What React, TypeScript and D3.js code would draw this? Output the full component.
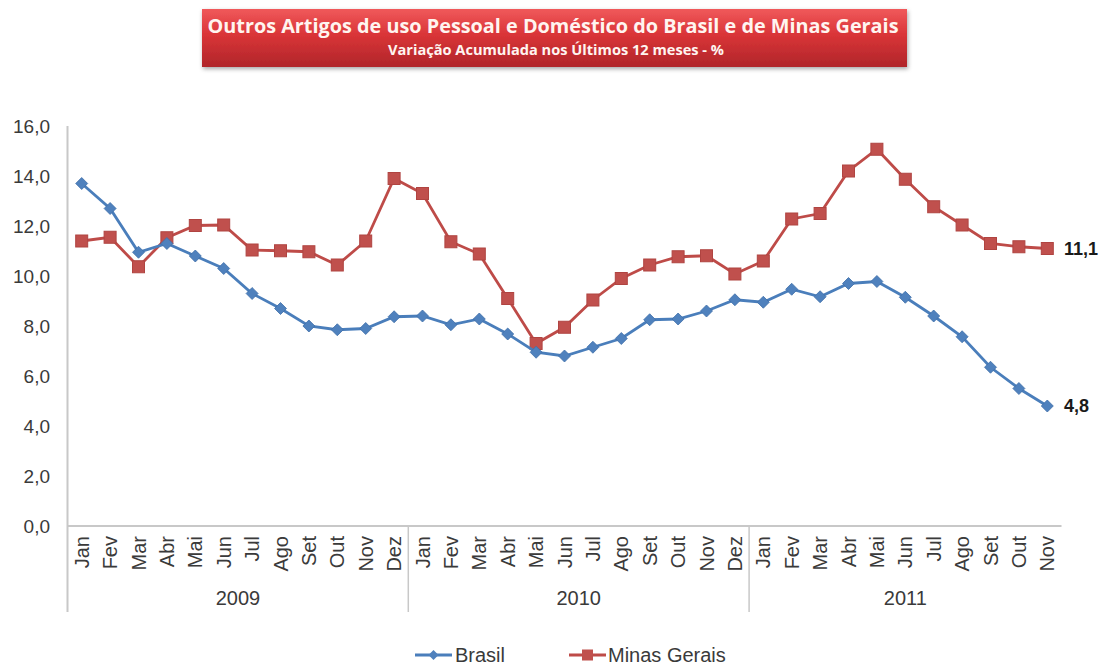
import React from "react";
import * as d3 from "d3";

const months = ["Jan","Fev","Mar","Abr","Mai","Jun","Jul","Ago","Set","Out","Nov","Dez"];
const years = ["2009", "2010", "2011"];
const monthsPerYear = [12, 12, 11];

const brasil = [13.7, 12.7, 10.95, 11.3, 10.8, 10.3, 9.3, 8.7, 8.0, 7.85, 7.9, 8.37,
  8.4, 8.05, 8.28, 7.68, 6.95, 6.8, 7.15, 7.5, 8.25, 8.28, 8.6, 9.05,
  8.95, 9.47, 9.17, 9.7, 9.78, 9.15, 8.4, 7.57, 6.35, 5.5, 4.8];
const minas = [11.4, 11.55, 10.37, 11.53, 12.02, 12.04, 11.04, 11.01, 10.97, 10.44, 11.4, 13.9,
  13.3, 11.37, 10.88, 9.1, 7.3, 7.95, 9.04, 9.9, 10.44, 10.77, 10.81, 10.08,
  10.6, 12.28, 12.5, 14.2, 15.07, 13.87, 12.77, 12.04, 11.3, 11.17, 11.1];
const yTicks = [0, 2, 4, 6, 8, 10, 12, 14, 16];
const seriesNames = ["Brasil", "Minas Gerais"];
const endLabels = ["4,8", "11,1"];

const BLUE = "#4a7ebb";
const RED = "#be4b48";

export default function App() {
  const W = 1104, H = 665;
  const left = 67.5, right = 1061.5, top = 126, bottom = 526;
  const cats: string[] = [];
  years.forEach((y, i) => { for (let m = 0; m < monthsPerYear[i]; m++) cats.push(`${months[m]}-${y}`); });
  const x = d3.scaleBand<string>().domain(cats).range([left, right]).paddingInner(0).paddingOuter(0);
  const y = d3.scaleLinear().domain([0, 16]).range([bottom, top]);
  const cx = (i: number) => (x(cats[i]) as number) + x.bandwidth() / 2;
  const line = d3.line<number>().x((_, i) => cx(i)).y((v) => y(v));
  const fmt = (v: number) => v.toFixed(1).replace(".", ",");

  const yearBounds: { start: number; end: number; label: string }[] = [];
  let idx = 0;
  years.forEach((yr, i) => {
    const s = x(cats[idx]) as number;
    idx += monthsPerYear[i];
    const e = i === years.length - 1 ? right : (x(cats[idx]) as number);
    yearBounds.push({ start: s, end: e, label: yr });
  });

  const axisColor = "#c8c8c8";
  const textColor = "#3a3a3a";
  const font = "'Liberation Sans', Arial, sans-serif";

  const diamond = (px: number, py: number, r: number) =>
    `M${px},${py - r}L${px + r},${py}L${px},${py + r}L${px - r},${py}Z`;

  return (
    <svg width={W} height={H} style={{ position: "absolute", left: 0, top: 0, background: "#fff" }}>
      <defs>
        <linearGradient id="tg" x1="0" y1="0" x2="0" y2="1">
          <stop offset="0" stopColor="#f0595b" />
          <stop offset="0.45" stopColor="#d93437" />
          <stop offset="1" stopColor="#b0262a" />
        </linearGradient>
        <filter id="sh" x="-5%" y="-20%" width="110%" height="150%">
          <feDropShadow dx="1" dy="2" stdDeviation="2" floodColor="#000" floodOpacity="0.35" />
        </filter>
      </defs>
      <rect x={202} y={9} width={705} height={58} fill="url(#tg)" filter="url(#sh)" />
      <text x={553} y={33} textAnchor="middle" fill="#fff5f0" fontFamily="'Open Sans', sans-serif"
        fontWeight="bold" fontSize={20} textLength={691} lengthAdjust="spacingAndGlyphs">
        Outros Artigos de uso Pessoal e Doméstico do Brasil e de Minas Gerais
      </text>
      <text x={556} y={55} textAnchor="middle" fill="#fff5f0" fontFamily="'Open Sans', sans-serif"
        fontWeight="bold" fontSize={14.5} textLength={336} lengthAdjust="spacingAndGlyphs">
        Variação Acumulada nos Últimos 12 meses - %
      </text>

      {/* axes */}
      <line x1={left} x2={left} y1={top} y2={612} stroke={axisColor} strokeWidth={2} />
      <line x1={left} x2={right} y1={bottom} y2={bottom} stroke={axisColor} strokeWidth={2} />
      {yearBounds.slice(1).map((b, i) => (
        <line key={i} x1={b.start} x2={b.start} y1={bottom} y2={612} stroke={axisColor} strokeWidth={1.5} />
      ))}
      {yTicks.map((t) => (
        <text key={t} x={50} y={y(t)} textAnchor="end" dominantBaseline="central" fontFamily={font}
          fontSize={19} fill={textColor}>{fmt(t)}</text>
      ))}
      {cats.map((c, i) => (
        <text key={c} transform={`translate(${cx(i)},536) rotate(-90)`} textAnchor="end" dominantBaseline="central"
          fontFamily={font} fontSize={20} fill={textColor}>{c.split("-")[0]}</text>
      ))}
      {yearBounds.map((b) => (
        <text key={b.label} x={(b.start + b.end) / 2} y={598} textAnchor="middle" dominantBaseline="central"
          fontFamily={font} fontSize={20} fill={textColor}>{b.label}</text>
      ))}

      {/* series */}
      <path d={line(minas) as string} fill="none" stroke={RED} strokeWidth={2.8} />
      {minas.map((v, i) => (
        <rect key={i} x={cx(i) - 6} y={y(v) - 6} width={12} height={12} fill="#c0504d" stroke="#b04441" strokeWidth={1} />
      ))}
      <path d={line(brasil) as string} fill="none" stroke={BLUE} strokeWidth={2.8} />
      {brasil.map((v, i) => (
        <path key={i} d={diamond(cx(i), y(v), 6)} fill="#4f81bd" stroke="#3f6fa8" strokeWidth={0.8} />
      ))}

      {/* end labels */}
      <text x={1064} y={y(minas[minas.length - 1])} dominantBaseline="central" fontFamily={font}
        fontWeight="bold" fontSize={18} fill="#1a1a1a">{endLabels[1]}</text>
      <text x={1064} y={y(brasil[brasil.length - 1])} dominantBaseline="central" fontFamily={font}
        fontWeight="bold" fontSize={18} fill="#1a1a1a">{endLabels[0]}</text>

      {/* legend */}
      <line x1={415} x2={452} y1={655} y2={655} stroke={BLUE} strokeWidth={2.8} />
      <path d={diamond(433.5, 655, 5)} fill="#4f81bd" />
      <text x={455} y={655} dominantBaseline="central" fontFamily={font} fontSize={20} fill={textColor}>{seriesNames[0]}</text>
      <line x1={569} x2={606} y1={655} y2={655} stroke={RED} strokeWidth={2.8} />
      <rect x={582} y={649.5} width={11} height={11} fill="#c0504d" />
      <text x={608} y={655} dominantBaseline="central" fontFamily={font} fontSize={20} fill={textColor}>{seriesNames[1]}</text>
    </svg>
  );
}
